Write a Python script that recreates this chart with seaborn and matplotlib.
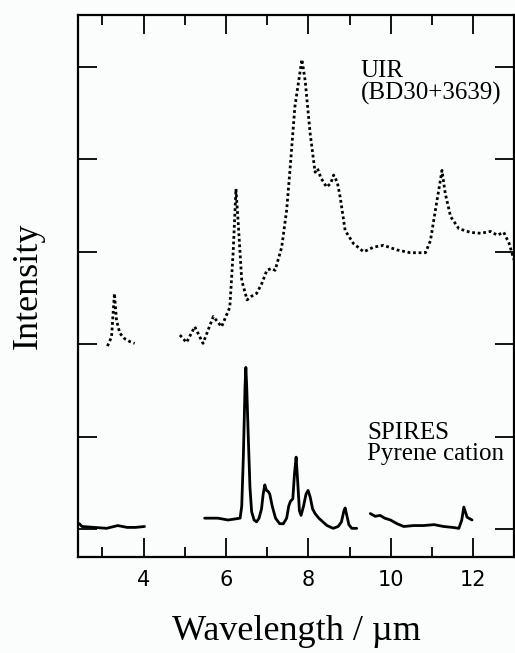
import pandas as pd
import seaborn as sns
import matplotlib.pyplot as plt

# UIR spectrum of BD30+3639 (dotted), two pieces
uir_a_wl = [3.12, 3.22, 3.29, 3.34, 3.42, 3.54, 3.66, 3.78]
uir_a_int = [1.98, 2.08, 2.55, 2.26, 2.12, 2.06, 2.03, 2.01]

uir_b_wl = [4.88, 5.04, 5.24, 5.44, 5.69, 5.89, 6.09, 6.17, 6.24, 6.29, 6.38,
            6.51, 6.62, 6.74, 6.86, 6.99, 7.10, 7.19, 7.35, 7.47, 7.55, 7.67,
            7.84, 7.92, 8.04, 8.16, 8.22, 8.30, 8.44, 8.54, 8.61, 8.70, 8.77,
            8.89, 9.09, 9.34, 9.58, 9.82, 10.15, 10.47, 10.84, 10.96, 11.08,
            11.20, 11.24, 11.32, 11.45, 11.65, 11.93, 12.18, 12.42, 12.58,
            12.74, 12.87, 12.99]
uir_b_int = [2.10, 2.02, 2.19, 2.01, 2.30, 2.19, 2.40, 2.98, 3.68, 3.34, 2.69,
             2.48, 2.52, 2.55, 2.65, 2.80, 2.82, 2.80, 3.05, 3.45, 3.88, 4.57,
             5.08, 4.85, 4.28, 3.86, 3.90, 3.80, 3.70, 3.74, 3.83, 3.75, 3.59,
             3.23, 3.09, 3.00, 3.05, 3.07, 3.02, 2.99, 2.99, 3.12, 3.45,
             3.77, 3.88, 3.63, 3.38, 3.25, 3.21, 3.20, 3.22, 3.18,
             3.21, 3.09, 2.91]

# SPIRES pyrene cation spectrum (solid), three pieces
spi_a_wl = [2.44, 2.50, 2.80, 3.10, 3.37, 3.60, 3.80, 4.02]
spi_a_int = [0.06, 0.03, 0.02, 0.01, 0.04, 0.02, 0.02, 0.03]

spi_b_wl = [5.48, 5.80, 6.05, 6.34, 6.38, 6.42, 6.46, 6.48, 6.50, 6.54, 6.58,
            6.62, 6.68, 6.74, 6.80, 6.86, 6.90, 6.94, 6.98, 7.02, 7.06, 7.12,
            7.20, 7.30, 7.39, 7.47, 7.52, 7.56, 7.62, 7.66, 7.70, 7.74, 7.78,
            7.82, 7.88, 7.94, 7.99, 8.04, 8.10, 8.16, 8.25, 8.35, 8.45, 8.60,
            8.72, 8.80, 8.86, 8.89, 8.93, 8.98, 9.05, 9.17]
spi_b_int = [0.12, 0.12, 0.10, 0.12, 0.25, 0.80, 1.55, 1.75, 1.55, 0.98, 0.45,
             0.19, 0.10, 0.08, 0.12, 0.22, 0.38, 0.48, 0.42, 0.41, 0.38, 0.25,
             0.12, 0.06, 0.06, 0.12, 0.25, 0.30, 0.33, 0.60, 0.78, 0.50, 0.20,
             0.15, 0.25, 0.38, 0.42, 0.35, 0.22, 0.17, 0.12, 0.08, 0.04, 0.01,
             0.03, 0.08, 0.20, 0.23, 0.15, 0.05, 0.01, 0.01]

spi_c_wl = [9.50, 9.62, 9.74, 9.85, 9.99, 10.15, 10.31, 10.55, 10.79, 11.05,
            11.28, 11.50, 11.65, 11.72, 11.77, 11.85, 11.97]
spi_c_int = [0.17, 0.14, 0.15, 0.12, 0.10, 0.06, 0.03, 0.04, 0.04, 0.05,
             0.03, 0.02, 0.01, 0.10, 0.24, 0.13, 0.10]


def segments(pieces):
    frames = []
    for i, (wl, inten) in enumerate(pieces):
        frames.append(pd.DataFrame({'wl': wl, 'inten': inten, 'seg': i}))
    return pd.concat(frames, ignore_index=True)


uir = segments([(uir_a_wl, uir_a_int), (uir_b_wl, uir_b_int)])
spires = segments([(spi_a_wl, spi_a_int), (spi_b_wl, spi_b_int), (spi_c_wl, spi_c_int)])

sns.set_theme(style="ticks")
plt.rcParams['font.family'] = ['Liberation Serif', 'DejaVu Serif']
plt.rcParams['text.color'] = 'black'
plt.rcParams['axes.labelcolor'] = 'black'
plt.rcParams['xtick.color'] = 'black'
plt.rcParams['ytick.color'] = 'black'

bg = '#fbfdfd'
fig = plt.figure(figsize=(5.15, 6.53), dpi=100, facecolor=bg)
ax = fig.add_axes([0.151, 0.147, 0.848, 0.83])
ax.set_facecolor(bg)

sns.lineplot(data=uir, x='wl', y='inten', units='seg', estimator=None, sort=False,
             color='black', linestyle=(0, (1, 1)), linewidth=2.0, ax=ax)
sns.lineplot(data=spires, x='wl', y='inten', units='seg', estimator=None, sort=False,
             color='black', linewidth=2.0, ax=ax)

ax.set_xlim(2.4, 13.0)
ax.set_ylim(-0.30, 5.56)
ax.set_xticks([4, 6, 8, 10, 12])
ax.set_xticks([3, 5, 7, 9, 11, 13], minor=True)
ax.set_yticks([0, 1, 2, 3, 4, 5])
ax.set_yticklabels([])

for s in ax.spines.values():
    s.set_linewidth(1.6)
    s.set_color('black')

ax.tick_params(axis='both', which='both', direction='in', top=True, right=True,
               color='black', width=1.3)
ax.tick_params(axis='both', which='major', length=14)
ax.tick_params(axis='x', which='minor', length=7)
ax.tick_params(axis='x', which='major', pad=9, labelsize=15, labelcolor='black')
for lab in ax.get_xticklabels():
    lab.set_family(['DejaVu Sans'])

ax.set_xlabel('Wavelength / µm', fontsize=26, labelpad=18)
ax.set_ylabel('Intensity', fontsize=26, labelpad=20)

ax.text(9.26, 5.07, 'UIR\n(BD30+3639)', fontsize=18, va='top', ha='left',
        linespacing=0.95)
ax.text(9.43, 1.16, 'SPIRES\nPyrene cation', fontsize=18, va='top', ha='left',
        linespacing=0.95)

fig.savefig('out.png', dpi=100, facecolor=bg)
